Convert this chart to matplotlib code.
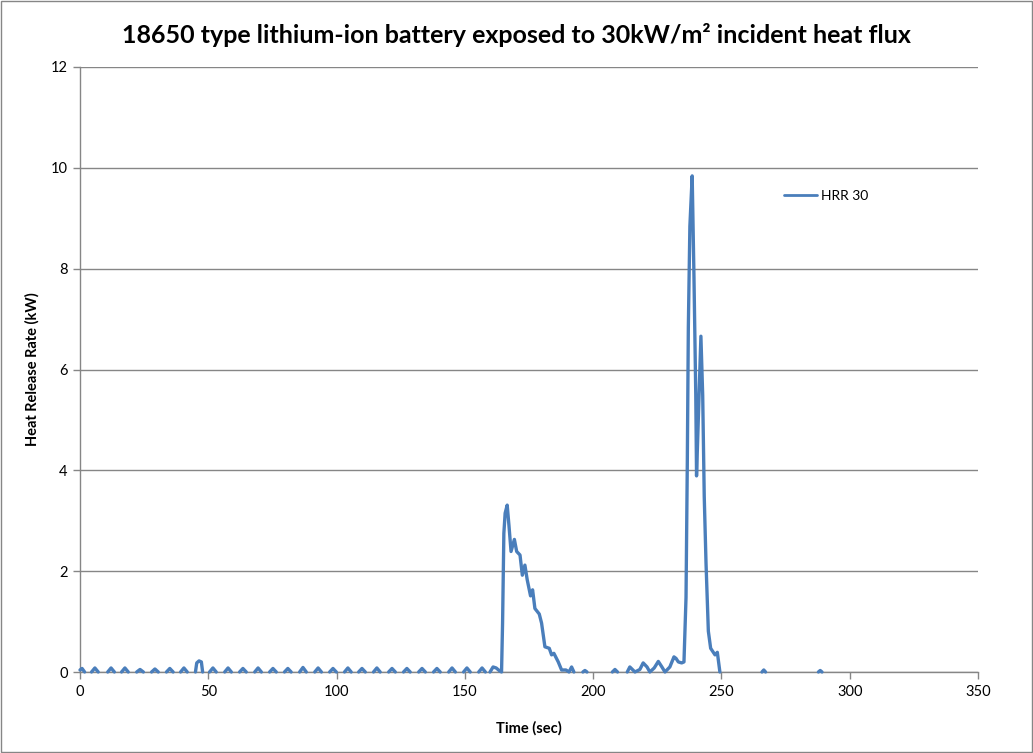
import numpy as np
import matplotlib
matplotlib.use("Agg")
import matplotlib.pyplot as plt
from matplotlib.patches import Rectangle

nan = np.nan

# Time (sec) and heat release rate (kW); NaN marks gaps where the trace sits on the axis
time_s = [
    0.0, 0.8, 1.8, nan,
    4.5, 5.8, 7.1, nan,
    10.8, 12.1, 13.4, nan,
    16.2, 17.5, 18.8, nan,
    22.1, 23.4, 24.7, nan,
    27.9, 29.2, 30.5, nan,
    33.7, 35.0, 36.3, nan,
    39.2, 40.5, 41.8, nan,
    45.0, 45.5, 46.4, 47.3, 47.8, nan,
    50.5, 51.8, 53.1, nan,
    56.4, 57.7, 59.0, nan,
    62.2, 63.5, 64.8, nan,
    68.1, 69.4, 70.7, nan,
    73.9, 75.2, 76.5, nan,
    79.7, 81.0, 82.3, nan,
    85.6, 86.9, 88.2, nan,
    91.5, 92.8, 94.1, nan,
    97.3, 98.6, 99.9, nan,
    103.1, 104.4, 105.7, nan,
    108.6, 109.9, 111.2, nan,
    114.4, 115.7, 117.0, nan,
    120.3, 121.6, 122.9, nan,
    126.1, 127.4, 128.7, nan,
    132.0, 133.3, 134.6, nan,
    137.8, 139.1, 140.4, nan,
    143.7, 145.0, 146.3, nan,
    149.5, 150.8, 152.1, nan,
    155.4, 156.7, 158.0, nan,
    159.8, 161.0, 162.2, 163.6, 164.3, 164.7, 165.2, 165.7, 166.5, 167.2,
    168.0, 169.3, 170.2, 171.5, 172.4, 173.4, 174.3, 175.6, 176.4, 177.3,
    179.0, 179.9, 181.2, 182.9, 183.8, 184.7, 186.4, 187.7, 189.4, 190.6,
    191.6, 192.5, nan,
    196.0, 196.8, 197.6, nan,
    207.5, 208.5, 209.5, nan,
    213.3, 214.3, 216.3, 218.2, 219.5, 221.0, 222.1, 223.8, 225.4, 226.8,
    228.0, 229.9, 231.5, 232.3, 233.2, 234.5, 235.4, 236.2, 236.7, 237.1,
    237.7, 238.6, 239.3, 240.0, 240.3, 241.3, 242.0, 242.7, 243.3, 244.0,
    244.9, 245.8, 247.5, 248.4, 249.4, nan,
    265.8, 266.5, 267.2, nan,
    287.8, 288.5, 289.2,
]
hrr_kw = [
    0.04, 0.07, 0.0, nan,
    0.0, 0.08, 0.0, nan,
    0.0, 0.08, 0.0, nan,
    0.0, 0.08, 0.0, nan,
    0.0, 0.05, 0.0, nan,
    0.0, 0.06, 0.0, nan,
    0.0, 0.07, 0.0, nan,
    0.0, 0.08, 0.0, nan,
    0.0, 0.18, 0.22, 0.2, 0.0, nan,
    0.0, 0.08, 0.0, nan,
    0.0, 0.08, 0.0, nan,
    0.0, 0.07, 0.0, nan,
    0.0, 0.08, 0.0, nan,
    0.0, 0.07, 0.0, nan,
    0.0, 0.07, 0.0, nan,
    0.0, 0.09, 0.0, nan,
    0.0, 0.08, 0.0, nan,
    0.0, 0.07, 0.0, nan,
    0.0, 0.08, 0.0, nan,
    0.0, 0.07, 0.0, nan,
    0.0, 0.08, 0.0, nan,
    0.0, 0.07, 0.0, nan,
    0.0, 0.07, 0.0, nan,
    0.0, 0.07, 0.0, nan,
    0.0, 0.07, 0.0, nan,
    0.0, 0.08, 0.0, nan,
    0.0, 0.08, 0.0, nan,
    0.0, 0.08, 0.0, nan,
    0.0, 0.1, 0.08, 0.02, 0.0, 0.97, 2.75, 3.15, 3.31, 2.9,
    2.39, 2.63, 2.39, 2.32, 1.92, 2.12, 1.83, 1.51, 1.63, 1.26,
    1.15, 0.97, 0.5, 0.47, 0.34, 0.37, 0.2, 0.04, 0.04, 0.0,
    0.1, 0.0, nan,
    0.0, 0.03, 0.0, nan,
    0.0, 0.05, 0.0, nan,
    0.0, 0.1, 0.0, 0.05, 0.18, 0.1, 0.0, 0.08, 0.21, 0.1,
    0.0, 0.1, 0.3, 0.27, 0.2, 0.18, 0.2, 1.48, 4.15, 6.83,
    8.84, 9.84, 7.83, 5.49, 3.89, 5.49, 6.66, 5.49, 3.48, 2.15,
    0.81, 0.47, 0.34, 0.39, 0.0, nan,
    0.0, 0.04, 0.0, nan,
    0.0, 0.03, 0.0,
]

x_ticks = [0, 50, 100, 150, 200, 250, 300, 350]
y_ticks = [0, 2, 4, 6, 8, 10, 12]

title = "18650 type lithium-ion battery exposed to 30kW/m\u00b2 incident heat flux"
series_name = "HRR 30"

plt.rcParams['font.family'] = ['Lato', 'DejaVu Sans']
GRAY = '#868686'
BLUE = '#4A7EBB'

fig = plt.figure(figsize=(10.33, 7.53), dpi=100)
ax = fig.add_axes([80 / 1033, 1 - 672 / 753, (978 - 80) / 1033, (672 - 67) / 753])

ax.plot(time_s, hrr_kw, color=BLUE, lw=2.4, solid_joinstyle='round',
        solid_capstyle='round', label=series_name, zorder=3, clip_on=False)

ax.set_xlim(0, 350)
ax.set_ylim(0, 12)
ax.set_xticks(x_ticks)
ax.set_yticks(y_ticks)
ax.set_xticklabels([str(v) for v in x_ticks], fontsize=10.5)
ax.set_yticklabels([str(v) for v in y_ticks], fontsize=10.5)
ax.tick_params(axis='both', direction='out', length=5, width=1, color=GRAY, pad=4)
ax.yaxis.grid(True, color=GRAY, lw=1)
ax.set_axisbelow(True)
for s in ['top', 'right']:
    ax.spines[s].set_visible(False)
for s in ['left', 'bottom']:
    ax.spines[s].set_color(GRAY)
    ax.spines[s].set_linewidth(1)
    ax.spines[s].set_zorder(2.5)

ax.set_xlabel("Time (sec)", fontsize=10.5, fontweight='bold', labelpad=16)
ax.set_ylabel("Heat Release Rate (kW)", fontsize=10.5, fontweight='bold', labelpad=8)
fig.text(0.5, 1 - 35 / 753, title, ha='center', va='center', fontsize=18, fontweight='bold')

leg = ax.legend(loc='upper left', bbox_to_anchor=((778 - 80) / 898, (672 - 184) / 605),
                frameon=False, fontsize=10, handlelength=2.4, handletextpad=0.3,
                borderaxespad=0)
for h in leg.get_lines():
    h.set_linewidth(2)

fig.patches.append(Rectangle((0.0008, 0.0013), 0.998, 0.997, transform=fig.transFigure,
                             fill=False, edgecolor=GRAY, lw=1))

fig.savefig("out.png", dpi=100)
